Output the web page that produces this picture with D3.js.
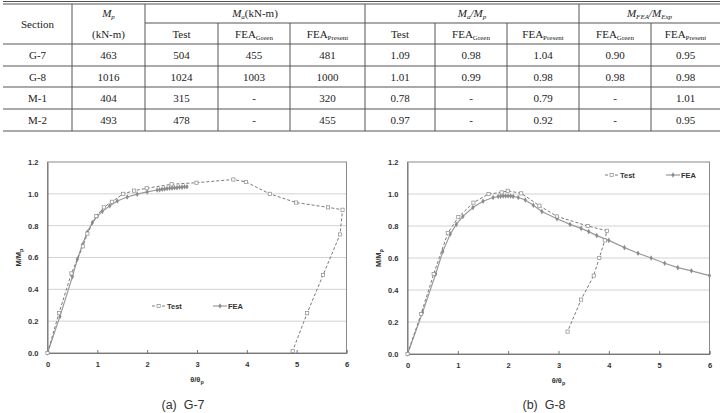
<!DOCTYPE html>
<html>
<head>
<meta charset="utf-8">
<script src="https://cdn.jsdelivr.net/npm/d3@7"></script>
<style>
  body { margin: 0; background: #fff; }
  svg { display: block; }
</style>
</head>
<body>
<svg width="723" height="413"></svg>
<script>
// ---- table data ----
var sections = ["G-7", "G-8", "M-1", "M-2"];
var mp = ["463", "1016", "404", "493"];
var maTest = ["504", "1024", "315", "478"];
var maGreen = ["455", "1003", "-", "-"];
var maPresent = ["481", "1000", "320", "455"];
var ratioTest = ["1.09", "1.01", "0.78", "0.97"];
var ratioGreen = ["0.98", "0.99", "-", "-"];
var ratioPresent = ["1.04", "0.98", "0.79", "0.92"];
var feaGreen = ["0.90", "0.98", "-", "-"];
var feaPresent = ["0.95", "0.98", "1.01", "0.95"];

// ---- curve data (theta/theta_p , M/M_p) ----
var g7TestX = [0, 0.23, 0.48, 0.71, 0.80, 0.98, 1.13, 1.29, 1.52, 1.74, 1.99, 2.49, 2.99, 3.73, 3.98, 4.46, 4.99, 5.63, 5.92, 5.87, 5.53, 5.21, 4.92];
var g7TestY = [0, 0.25, 0.50, 0.67, 0.75, 0.86, 0.915, 0.95, 1.00, 1.02, 1.035, 1.06, 1.07, 1.09, 1.075, 1.00, 0.945, 0.915, 0.90, 0.745, 0.49, 0.25, 0.013];
var g7FeaX = [0, 0.25, 0.5, 0.6, 0.7, 0.8, 0.9, 1.0, 1.1, 1.25, 1.4, 1.6, 1.8, 2.0, 2.2, 2.25, 2.3, 2.35, 2.4, 2.45, 2.5, 2.55, 2.6, 2.65, 2.7, 2.75, 2.8];
var g7FeaY = [0, 0.23, 0.48, 0.59, 0.68, 0.76, 0.82, 0.86, 0.89, 0.925, 0.955, 0.98, 0.998, 1.012, 1.024, 1.026, 1.029, 1.031, 1.033, 1.035, 1.036, 1.038, 1.039, 1.041, 1.042, 1.044, 1.045];

var g8TestX = [0, 0.27, 0.52, 0.80, 1.01, 1.31, 1.61, 1.87, 1.99, 2.26, 2.62, 2.97, 3.58, 3.96, 3.92, 3.81, 3.70, 3.45, 3.18];
var g8TestY = [0, 0.25, 0.50, 0.755, 0.855, 0.946, 1.00, 1.01, 1.02, 1.004, 0.927, 0.86, 0.80, 0.77, 0.71, 0.60, 0.49, 0.34, 0.14];
var g8FeaX = [0, 0.3, 0.56, 0.7, 0.85, 0.97, 1.1, 1.3, 1.5, 1.7, 1.8, 1.85, 1.9, 1.95, 2.0, 2.05, 2.1, 2.2, 2.34, 2.5, 2.67, 2.97, 3.23, 3.45, 3.6, 3.76, 4.0, 4.31, 4.58, 4.84, 5.11, 5.37, 5.64, 6.0];
var g8FeaY = [0, 0.26, 0.5, 0.64, 0.75, 0.81, 0.86, 0.915, 0.955, 0.978, 0.984, 0.986, 0.987, 0.988, 0.988, 0.987, 0.985, 0.978, 0.963, 0.93, 0.89, 0.845, 0.81, 0.785, 0.765, 0.74, 0.71, 0.665, 0.63, 0.60, 0.567, 0.54, 0.52, 0.49];

var xTicks = [0, 1, 2, 3, 4, 5, 6];
var yTicks = [0, 0.2, 0.4, 0.6, 0.8, 1.0, 1.2];

var svg = d3.select("svg");
svg.append("rect").attr("width", 723).attr("height", 413).attr("fill", "#fff");

// ---------------- table ----------------
var colX = [3, 72, 145, 218, 290, 365, 435, 507, 579, 651, 720];
var rowY = [4, 23, 44, 66, 87, 109, 131];
var tbl = svg.append("g").attr("font-family", "'Liberation Serif', 'Times New Roman', serif")
  .attr("font-size", 11).attr("fill", "#222");

function rich(x, y, parts) {
  var t = tbl.append("text").attr("x", x).attr("y", y).attr("text-anchor", "middle");
  parts.forEach(function (p) {
    var s = t.append("tspan").text(p.t);
    if (p.i) s.attr("font-style", "italic");
    if (p.sub) s.attr("font-size", 7).attr("dy", 2);
    if (p.up) s.attr("dy", -2);
  });
  return t;
}

var lineCol = "#555";
// top double rule
tbl.append("line").attr("x1", colX[0]).attr("x2", colX[10]).attr("y1", 1.5).attr("y2", 1.5).attr("stroke", lineCol);
tbl.append("line").attr("x1", colX[0]).attr("x2", colX[10]).attr("y1", 4).attr("y2", 4).attr("stroke", lineCol);
// header split rule
tbl.append("line").attr("x1", colX[2]).attr("x2", colX[10]).attr("y1", rowY[1]).attr("y2", rowY[1]).attr("stroke", lineCol);
for (var r = 2; r < rowY.length; r++) {
  tbl.append("line").attr("x1", colX[0]).attr("x2", colX[10]).attr("y1", rowY[r]).attr("y2", rowY[r]).attr("stroke", lineCol);
}
// vertical rules
[1, 2, 5, 8].forEach(function (c) {
  tbl.append("line").attr("x1", colX[c]).attr("x2", colX[c]).attr("y1", rowY[0]).attr("y2", rowY[6]).attr("stroke", lineCol);
});
[3, 4, 6, 7, 9].forEach(function (c) {
  tbl.append("line").attr("x1", colX[c]).attr("x2", colX[c]).attr("y1", rowY[1]).attr("y2", rowY[6]).attr("stroke", lineCol);
});

function mid(c) { return (colX[c] + colX[c + 1]) / 2; }

rich(mid(0), 28, [{ t: "Section" }]);
rich(mid(1), 17, [{ t: "M", i: true }, { t: "p", i: true, sub: true }]);
rich(mid(1), 38, [{ t: "(kN-m)" }]);
rich((colX[2] + colX[5]) / 2, 17, [{ t: "M", i: true }, { t: "a", i: true, sub: true }, { t: "(kN-m)", up: true }]);
rich((colX[5] + colX[8]) / 2, 17, [{ t: "M", i: true }, { t: "a", i: true, sub: true }, { t: "/M", i: true, up: true }, { t: "p", i: true, sub: true }]);
rich((colX[8] + colX[10]) / 2, 17, [{ t: "M", i: true }, { t: "FEA", i: true, sub: true }, { t: "/M", i: true, up: true }, { t: "Exp", i: true, sub: true }]);

var subHeads = [[{ t: "Test" }], [{ t: "FEA" }, { t: "Green", sub: true }], [{ t: "FEA" }, { t: "Present", sub: true }]];
[2, 5].forEach(function (c0) {
  subHeads.forEach(function (h, k) { rich(mid(c0 + k), 38, h); });
});
rich(mid(8), 38, subHeads[1]);
rich(mid(9), 38, subHeads[2]);

var cols = [sections, mp, maTest, maGreen, maPresent, ratioTest, ratioGreen, ratioPresent, feaGreen, feaPresent];
cols.forEach(function (arr, c) {
  arr.forEach(function (v, r) {
    rich(mid(c), (rowY[r + 2] + rowY[r + 3]) / 2 + 4, [{ t: v }]);
  });
});

// ---------------- charts ----------------
function zip(xs, ys) { return xs.map(function (x, i) { return [x, ys[i]]; }); }

function drawPanel(opt) {
  var x = d3.scaleLinear().domain([0, 6]).range([opt.left, opt.right]);
  var y = d3.scaleLinear().domain([0, 1.2]).range([opt.bottom, opt.top]);
  var g = svg.append("g").attr("font-family", "'Liberation Sans', Arial, sans-serif");

  // gridlines
  g.append("g").selectAll("line").data(yTicks.slice(1, -1)).enter().append("line")
    .attr("x1", opt.left).attr("x2", opt.right)
    .attr("y1", function (d) { return y(d); }).attr("y2", function (d) { return y(d); })
    .attr("stroke", "#d2d2d2").attr("stroke-width", 1);
  // plot border
  g.append("rect").attr("x", opt.left).attr("y", opt.top)
    .attr("width", opt.right - opt.left).attr("height", opt.bottom - opt.top)
    .attr("fill", "none").attr("stroke", "#8a8a8a").attr("stroke-width", 1);

  var xa = g.append("g").attr("transform", "translate(0," + opt.bottom + ")")
    .call(d3.axisBottom(x).tickValues(xTicks).tickFormat(d3.format("d")).tickSize(-3).tickPadding(9));
  var ya = g.append("g").attr("transform", "translate(" + opt.left + ",0)")
    .call(d3.axisLeft(y).tickValues(yTicks).tickFormat(d3.format(".1f")).tickSize(0).tickPadding(9));
  [xa, ya].forEach(function (a) {
    a.select(".domain").attr("stroke", "#777");
    a.selectAll(".tick line").attr("stroke", "#777");
    a.selectAll("text").attr("font-size", 7.5).attr("font-weight", "bold").attr("fill", "#333")
      .attr("font-family", "'Liberation Sans', Arial, sans-serif");
  });

  // axis titles
  var xt = g.append("text").attr("x", (opt.left + opt.right) / 2).attr("y", opt.bottom + 29)
    .attr("text-anchor", "middle").attr("font-size", 7.5).attr("font-weight", "bold").attr("fill", "#333");
  xt.append("tspan").text("\u03b8/\u03b8");
  xt.append("tspan").text("p").attr("font-size", 5.5).attr("dy", 2);
  var yt = g.append("text").attr("transform", "translate(" + (opt.left - 27) + "," + ((opt.top + opt.bottom) / 2) + ") rotate(-90)")
    .attr("text-anchor", "middle").attr("font-size", 7.5).attr("font-weight", "bold").attr("fill", "#333");
  yt.append("tspan").text("M/M");
  yt.append("tspan").text("p").attr("font-size", 5.5).attr("dy", 2);

  var line = d3.line().x(function (d) { return x(d[0]); }).y(function (d) { return y(d[1]); });

  var fea = zip(opt.feaX, opt.feaY);
  var test = zip(opt.testX, opt.testY);

  g.append("path").attr("d", line(fea)).attr("fill", "none").attr("stroke", "#9a9a9a").attr("stroke-width", 1.2);
  g.append("g").selectAll("path").data(fea).enter().append("path")
    .attr("d", d3.symbol().type(d3.symbolDiamond).size(9))
    .attr("transform", function (d) { return "translate(" + x(d[0]) + "," + y(d[1]) + ")"; })
    .attr("fill", "#8c8c8c");

  g.append("path").attr("d", line(test)).attr("fill", "none").attr("stroke", "#7a7a7a")
    .attr("stroke-width", 1).attr("stroke-dasharray", "3,2");
  g.append("g").selectAll("rect").data(test).enter().append("rect")
    .attr("x", function (d) { return x(d[0]) - 1.6; }).attr("y", function (d) { return y(d[1]) - 1.6; })
    .attr("width", 3.2).attr("height", 3.2).attr("fill", "#fff").attr("stroke", "#8a8a8a").attr("stroke-width", 0.7);

  // legend
  var lg = g.append("g").attr("transform", "translate(" + opt.legX + "," + opt.legY + ")");
  lg.append("line").attr("x1", 0).attr("x2", 13).attr("stroke", "#7a7a7a").attr("stroke-dasharray", "3,2");
  lg.append("rect").attr("x", 5).attr("y", -1.6).attr("width", 3.2).attr("height", 3.2)
    .attr("fill", "#fff").attr("stroke", "#8a8a8a").attr("stroke-width", 0.7);
  lg.append("text").attr("x", 15).attr("y", 2.7).text("Test")
    .attr("font-size", 7.5).attr("font-weight", "bold").attr("fill", "#333");
  lg.append("line").attr("x1", 61).attr("x2", 75).attr("stroke", "#9a9a9a").attr("stroke-width", 1.2);
  lg.append("path").attr("d", d3.symbol().type(d3.symbolDiamond).size(9)).attr("transform", "translate(68,0)").attr("fill", "#8c8c8c");
  lg.append("text").attr("x", 76).attr("y", 2.7).text("FEA")
    .attr("font-size", 7.5).attr("font-weight", "bold").attr("fill", "#333");

  // caption
  svg.append("text").attr("x", opt.capX).attr("y", 409).attr("text-anchor", "middle")
    .attr("font-family", "'Liberation Sans', Arial, sans-serif").attr("font-size", 12.5).attr("fill", "#333")
    .style("white-space", "pre").text(opt.caption);
}

drawPanel({ left: 47.5, right: 346.5, top: 162, bottom: 353, testX: g7TestX, testY: g7TestY,
  feaX: g7FeaX, feaY: g7FeaY, legX: 152, legY: 306, capX: 183, caption: "(a)  G-7" });
drawPanel({ left: 407.5, right: 709.5, top: 162, bottom: 354, testX: g8TestX, testY: g8TestY,
  feaX: g8FeaX, feaY: g8FeaY, legX: 605, legY: 175, capX: 544, caption: "(b)  G-8" });
</script>
</body>
</html>
